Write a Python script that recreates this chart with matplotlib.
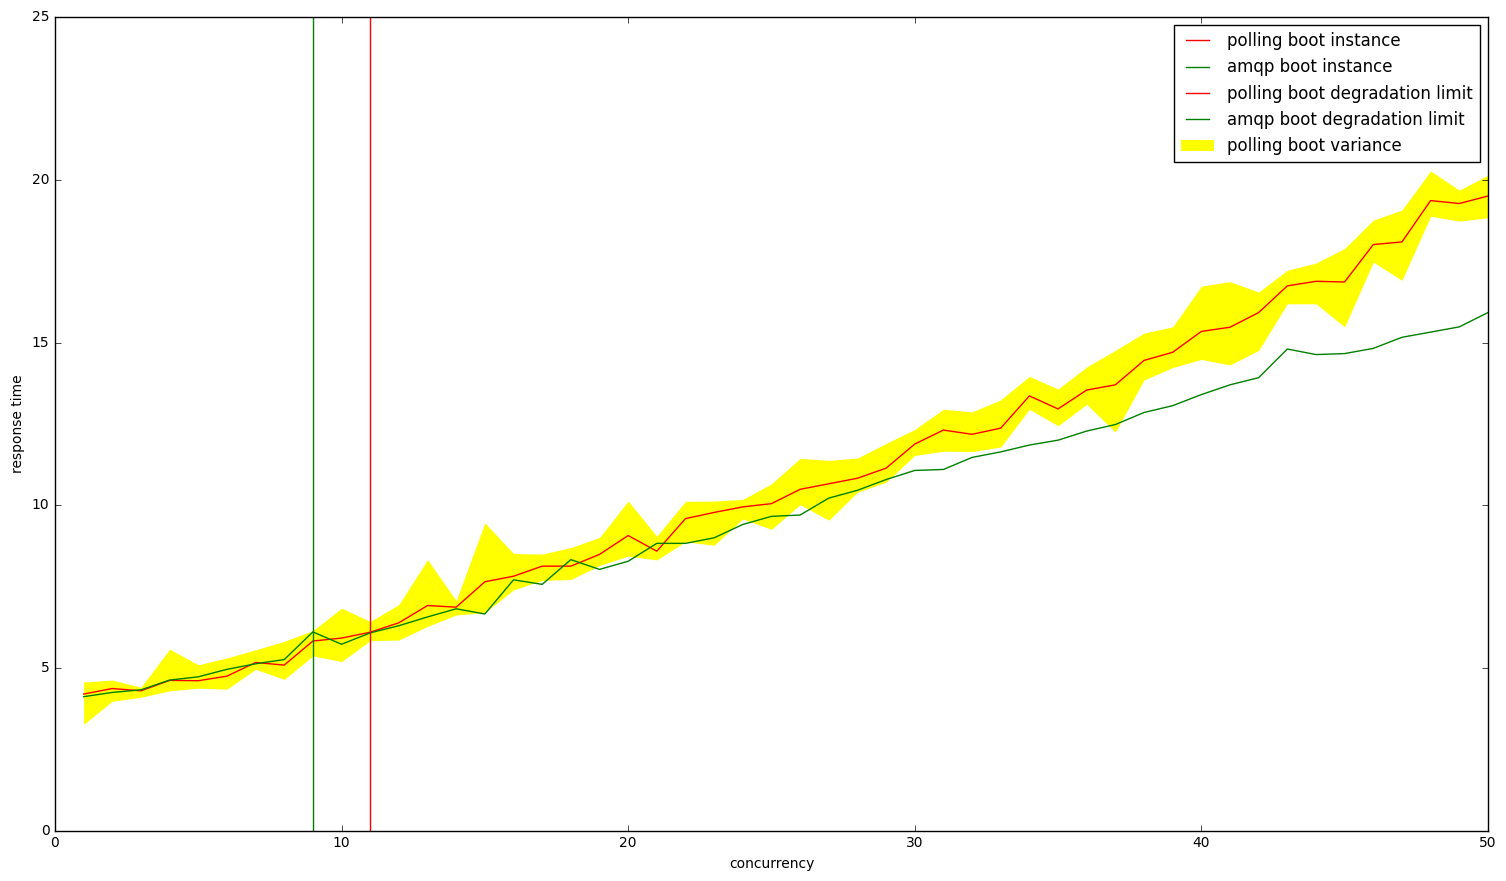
import numpy as np
import matplotlib
matplotlib.use("Agg")
import matplotlib.pyplot as plt

concurrency = list(range(1, 51))

polling_mean = [4.20, 4.37, 4.30, 4.62, 4.61, 4.75, 5.17, 5.09, 5.83, 5.92,
                6.10, 6.39, 6.92, 6.87, 7.65, 7.82, 8.13, 8.13, 8.49, 9.07,
                8.59, 9.59, 9.78, 9.95, 10.05, 10.49, 10.66, 10.83, 11.14, 11.88,
                12.31, 12.18, 12.37, 13.36, 12.96, 13.54, 13.70, 14.45, 14.70, 15.34,
                15.47, 15.92, 16.74, 16.88, 16.86, 18.01, 18.09, 19.36, 19.27, 19.50]

amqp_mean = [4.12, 4.25, 4.33, 4.63, 4.73, 4.96, 5.13, 5.26, 6.11, 5.73,
             6.08, 6.30, 6.57, 6.82, 6.66, 7.71, 7.57, 8.33, 8.03, 8.28,
             8.83, 8.83, 9.00, 9.41, 9.66, 9.70, 10.22, 10.46, 10.79, 11.07,
             11.10, 11.47, 11.64, 11.85, 12.00, 12.28, 12.48, 12.85, 13.06, 13.40,
             13.70, 13.92, 14.80, 14.63, 14.66, 14.82, 15.16, 15.32, 15.48, 15.92]

polling_upper = [4.57, 4.63, 4.41, 5.58, 5.10, 5.31, 5.56, 5.82, 6.15, 6.84,
                 6.43, 6.95, 8.33, 7.07, 9.46, 8.52, 8.50, 8.70, 9.01, 10.13,
                 9.05, 10.12, 10.13, 10.18, 10.66, 11.44, 11.38, 11.45, 11.90, 12.33,
                 12.95, 12.87, 13.24, 13.96, 13.57, 14.25, 14.76, 15.29, 15.48, 16.73,
                 16.87, 16.55, 17.22, 17.44, 17.89, 18.76, 19.07, 20.27, 19.68, 20.14]

polling_lower = [3.27, 3.98, 4.10, 4.30, 4.38, 4.35, 4.96, 4.65, 5.37, 5.20,
                 5.84, 5.86, 6.28, 6.63, 6.70, 7.40, 7.69, 7.72, 8.15, 8.44,
                 8.32, 8.88, 8.77, 9.58, 9.26, 10.02, 9.54, 10.40, 10.71, 11.53,
                 11.66, 11.65, 11.79, 12.95, 12.44, 13.10, 12.25, 13.85, 14.23, 14.48,
                 14.31, 14.76, 16.19, 16.19, 15.48, 17.47, 16.91, 18.88, 18.73, 18.83]

polling_limit = 11
amqp_limit = 9

plt.style.use('classic')
plt.rcParams['font.size'] = 10
plt.rcParams['savefig.facecolor'] = 'white'

fig = plt.figure(figsize=(15.06, 8.81), dpi=100)
ax = fig.add_subplot(111)
fig.subplots_adjust(left=0.0365, right=0.988, top=0.9807, bottom=0.0570)

ax.plot(concurrency, polling_mean, color='red', label='polling boot instance')
ax.plot(concurrency, amqp_mean, color='green', label='amqp boot instance')
ax.axvline(polling_limit, color='red', label='polling boot degradation limit')
ax.axvline(amqp_limit, color='green', label='amqp boot degradation limit')
ax.fill_between(concurrency, polling_lower, polling_upper, facecolor='yellow',
                linewidth=0, label='polling boot variance')

ax.set_xlim(0, 50)
ax.set_ylim(0, 25)
ax.set_xlabel('concurrency')
ax.set_ylabel('response time')
ax.legend(loc='upper right', fontsize=12)

fig.savefig('out.png', dpi=100)
